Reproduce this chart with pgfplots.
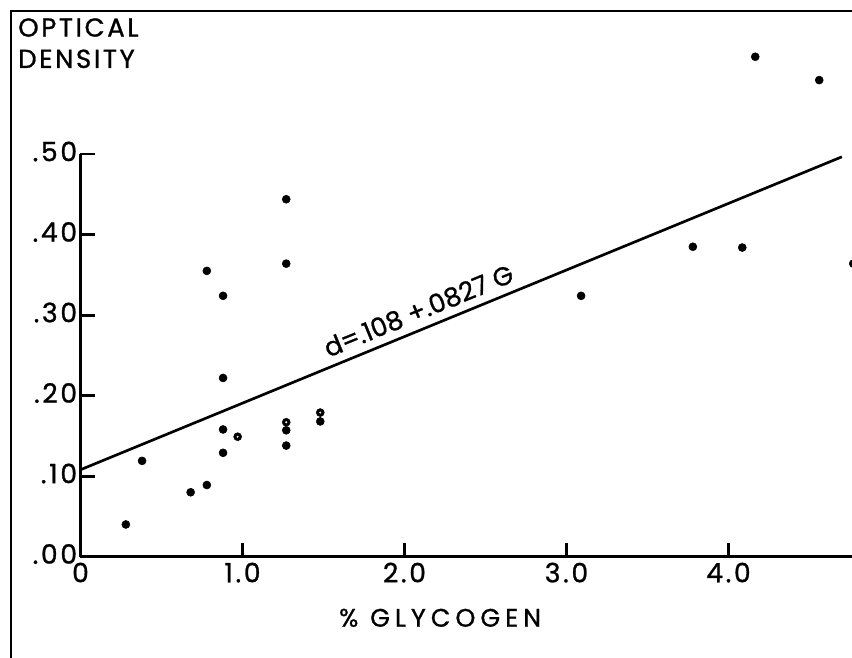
\documentclass[border=0pt]{standalone}
\usepackage{pgfplots}
\pgfplotsset{compat=1.18}
\usepackage{fontspec}
\setmainfont{Poppins}[LetterSpace=10, FakeBold=1]
\newfontfamily\wide{Poppins}[LetterSpace=20, FakeBold=1]
\newfontfamily\plain{Poppins}[FakeBold=1]
\begin{document}
\begin{tikzpicture}
\useasboundingbox (-60.375pt,-75.975pt) rectangle (578.625pt,417.5pt);
\draw[line width=1.5pt] (-52.1pt,-76pt) -- (-52.1pt,409.3pt) -- (579pt,409.3pt);
\node[anchor=north west, align=left, inner sep=0pt, font=\fontsize{19.5}{23.5}\selectfont] at (-46.9pt,404pt) {OPTICAL\\DENSITY};
\begin{axis}[
  anchor=origin, at={(0pt,0pt)},
  x=121.5pt, y=603.75pt,
  xmin=0, xmax=4.77, ymin=0, ymax=0.5,
  axis lines=left,
  axis line style={-, line width=2pt},
  clip=false,
  xtick={0,1,2,3,4}, xticklabels={0,1.0,2.0,3.0,4.0},
  ytick={0,0.1,0.2,0.3,0.4,0.5}, yticklabels={.00,.10,.20,.30,.40,.50},
  tick align=inside, major tick length=10.5pt,
  tick style={line width=2pt, black},
  ticklabel style={font=\fontsize{20}{22}\selectfont},
  yticklabel style={yshift=2pt, xshift=1pt},
  xticklabel style={yshift=-1pt},
  /pgf/number format/assume math mode=true,
]
\addplot[only marks, mark=*, mark size=3pt, black] coordinates {
(0.28,0.040) (0.38,0.119) (0.68,0.080) (0.78,0.089) (0.78,0.355)
(0.88,0.324) (0.88,0.222) (0.88,0.158) (0.88,0.129)
(1.27,0.444) (1.27,0.364) (1.27,0.157) (1.27,0.138) (1.48,0.168)
(3.09,0.324) (3.78,0.385) (4.085,0.384) (4.165,0.621) (4.56,0.592) (4.77,0.364)
(0.97,0.149) (1.27,0.167) (1.48,0.179)
};
\addplot[only marks, mark=*, mark size=0.5pt, white] coordinates {
(0.97,0.149) (1.27,0.167) (1.48,0.179)
};
\addplot[black, line width=2pt] coordinates {(0,0.108) (4.7,0.4967)};
\node[rotate=22.3, anchor=base west, inner sep=0pt, font=\plain\fontsize{19.5}{21}\selectfont] at (axis cs:1.53,0.247) {d=.108 +.0827 G};
\node[font=\wide\fontsize{19}{22}\selectfont] at (axis cs:2.22,-0.076) {\% GLYCOGEN};
\end{axis}
\end{tikzpicture}
\end{document}
